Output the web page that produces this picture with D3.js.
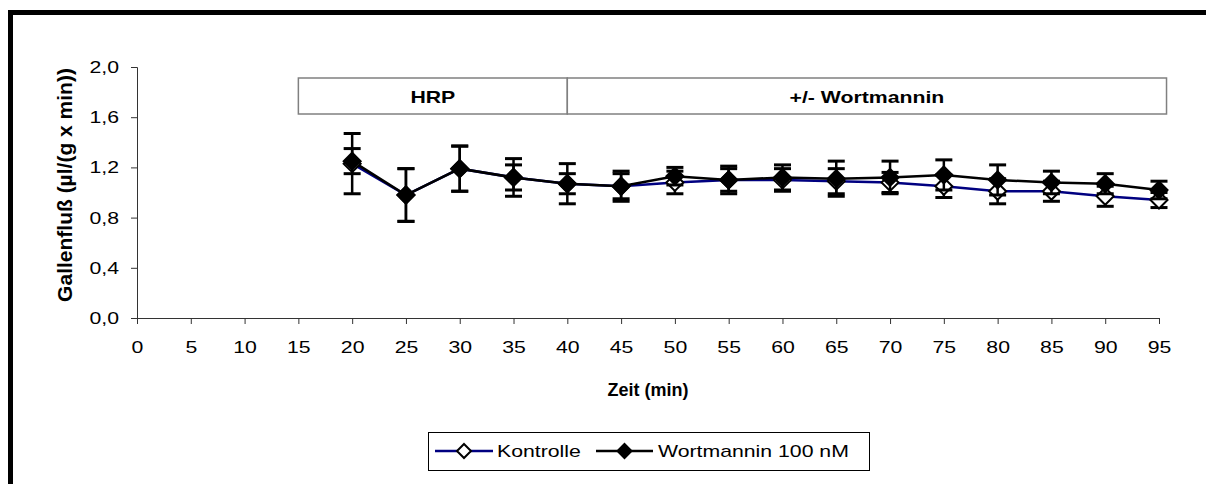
<!DOCTYPE html>
<html>
<head>
<meta charset="utf-8">
<script src="https://cdn.jsdelivr.net/npm/d3@7"></script>
<style>
  html, body { margin: 0; padding: 0; background: #fff; }
  svg { display: block; }
  text { font-family: "Liberation Sans", Arial, sans-serif; }
</style>
</head>
<body>
<svg id="chart" width="1206" height="484"></svg>
<script>
// ---- data ----
const timePoints = [20, 25, 30, 35, 40, 45, 50, 55, 60, 65, 70, 75, 80, 85, 90, 95];
const kontrolleMean = [1.23, 0.98, 1.19, 1.12, 1.07, 1.05, 1.08, 1.10, 1.10, 1.09, 1.08, 1.05, 1.01, 1.01, 0.97, 0.94];
const kontrolleErr  = [0.24, 0.21, 0.18, 0.15, 0.16, 0.12, 0.09, 0.11, 0.09, 0.10, 0.08, 0.09, 0.10, 0.08, 0.08, 0.06];
const wortMean      = [1.25, 0.98, 1.19, 1.12, 1.07, 1.05, 1.13, 1.10, 1.12, 1.11, 1.12, 1.14, 1.10, 1.08, 1.07, 1.02];
const wortErr       = [0.10, 0.21, 0.18, 0.10, 0.08, 0.10, 0.07, 0.09, 0.10, 0.14, 0.13, 0.12, 0.12, 0.09, 0.08, 0.07];
const xTicks = [0, 5, 10, 15, 20, 25, 30, 35, 40, 45, 50, 55, 60, 65, 70, 75, 80, 85, 90, 95];
const yTicks = [0, 0.4, 0.8, 1.2, 1.6, 2.0];
const phases = [
  { label: "HRP", from: 15, to: 40 },
  { label: "+/- Wortmannin", from: 40, to: 95.7 }
];
const seriesNames = ["Kontrolle", "Wortmannin 100 nM"];
const xTitle = "Zeit (min)";
const yTitle = "Gallenfluß (µl/(g x min))";

// ---- layout ----
const SX = 1.25;      // horizontal stretch of text glyphs in the original
const FS = 17;        // base font size
const svg = d3.select("#chart");
const x = d3.scaleLinear().domain([0, 95]).range([137, 1159]);
const y = d3.scaleLinear().domain([0, 2]).range([318, 67]);

// outer frame
svg.append("rect")
  .attr("x", 10.5).attr("y", 12.5)
  .attr("width", 1300).attr("height", 600)
  .attr("fill", "none").attr("stroke", "#000").attr("stroke-width", 5);

const fmt = d => d3.format(".1f")(d).replace(".", ",");

// y axis
const yAxis = svg.append("g")
  .attr("transform", `translate(${x(0)},0)`)
  .call(d3.axisLeft(y).tickValues(yTicks).tickFormat(fmt).tickSize(6));
yAxis.selectAll("text")
  .attr("font-size", FS).attr("fill", "#000")
  .attr("font-family", "Liberation Sans, Arial, sans-serif")
  .attr("x", -18 / SX)
  .attr("transform", `scale(${SX},1)`);

// x axis
const xAxis = svg.append("g")
  .attr("transform", `translate(0,${y(0)})`)
  .call(d3.axisBottom(x).tickValues(xTicks).tickFormat(d3.format("d")).tickSize(6).tickPadding(17));
xAxis.selectAll("text")
  .attr("font-size", FS).attr("fill", "#000")
  .attr("font-family", "Liberation Sans, Arial, sans-serif")
  .attr("transform", `scale(${SX},1)`);

[yAxis, xAxis].forEach(a => {
  a.select(".domain").attr("stroke", "#333").attr("stroke-width", 1);
  a.selectAll(".tick line").attr("stroke", "#333").attr("stroke-width", 1);
});

// axis titles
svg.append("text")
  .attr("transform", `translate(648,396)`)
  .attr("text-anchor", "middle")
  .attr("font-size", 18).attr("font-weight", "bold")
  .text(xTitle);

svg.append("text")
  .attr("transform", "translate(72,185) rotate(-90)")
  .attr("text-anchor", "middle")
  .attr("font-size", 21).attr("font-weight", "bold")
  .text(yTitle);

// phase boxes
const ph = svg.append("g");
phases.forEach(p => {
  ph.append("rect")
    .attr("x", x(p.from)).attr("y", 78)
    .attr("width", x(p.to) - x(p.from)).attr("height", 36)
    .attr("fill", "#fff").attr("stroke", "#808080").attr("stroke-width", 1.5);
  ph.append("text")
    .attr("transform", `translate(${(x(p.from) + x(p.to)) / 2},103) scale(${SX},1)`)
    .attr("text-anchor", "middle")
    .attr("font-size", FS).attr("font-weight", "bold")
    .text(p.label);
});

// series
const series = [
  { name: seriesNames[0], mean: kontrolleMean, err: kontrolleErr, line: "#000080", fill: "#fff" },
  { name: seriesNames[1], mean: wortMean, err: wortErr, line: "#000", fill: "#000" }
];
series.forEach(s => { s.pts = timePoints.map((t, i) => ({ t, v: s.mean[i], e: s.err[i] })); });

const diamond = (cx, cy, r) => `M${cx},${cy - r}L${cx + r},${cy}L${cx},${cy + r}L${cx - r},${cy}Z`;

// lines first
series.forEach(s => {
  svg.append("path")
    .datum(s.pts)
    .attr("fill", "none").attr("stroke", s.line).attr("stroke-width", 2.5)
    .attr("d", d3.line().x(d => x(d.t)).y(d => y(d.v)));
});
// error bars and markers
series.forEach(s => {
  const g = svg.append("g");
  const eb = g.selectAll(".eb").data(s.pts).enter().append("g");
  eb.append("line")
    .attr("x1", d => x(d.t)).attr("x2", d => x(d.t))
    .attr("y1", d => y(d.v + d.e)).attr("y2", d => y(d.v - d.e))
    .attr("stroke", "#000").attr("stroke-width", 2.5);
  [1, -1].forEach(sg => {
    eb.append("line")
      .attr("x1", d => x(d.t) - 8.5).attr("x2", d => x(d.t) + 8.5)
      .attr("y1", d => y(d.v + sg * d.e)).attr("y2", d => y(d.v + sg * d.e))
      .attr("stroke", "#000").attr("stroke-width", 3);
  });
  g.selectAll(".mk").data(s.pts).enter().append("path")
    .attr("d", d => diamond(x(d.t), y(d.v), 8.5))
    .attr("fill", s.fill).attr("stroke", "#000").attr("stroke-width", 2);
});

// legend
const lg = svg.append("g");
lg.append("rect")
  .attr("x", 428.5).attr("y", 432.5).attr("width", 441).attr("height", 38)
  .attr("fill", "#fff").attr("stroke", "#000").attr("stroke-width", 1);
const legendItems = [
  { s: series[0], x0: 435, x1: 493, tx: 497 },
  { s: series[1], x0: 596, x1: 653, tx: 658 }
];
legendItems.forEach(li => {
  const cy = 451;
  lg.append("line")
    .attr("x1", li.x0).attr("x2", li.x1).attr("y1", cy).attr("y2", cy)
    .attr("stroke", li.s.line).attr("stroke-width", 2.5);
  lg.append("path")
    .attr("d", diamond((li.x0 + li.x1) / 2, cy, 7))
    .attr("fill", li.s.fill).attr("stroke", "#000").attr("stroke-width", 2);
  lg.append("text")
    .attr("transform", `translate(${li.tx},${cy + 6}) scale(${SX},1)`)
    .attr("font-size", FS)
    .text(li.s.name);
});
</script>
</body>
</html>
